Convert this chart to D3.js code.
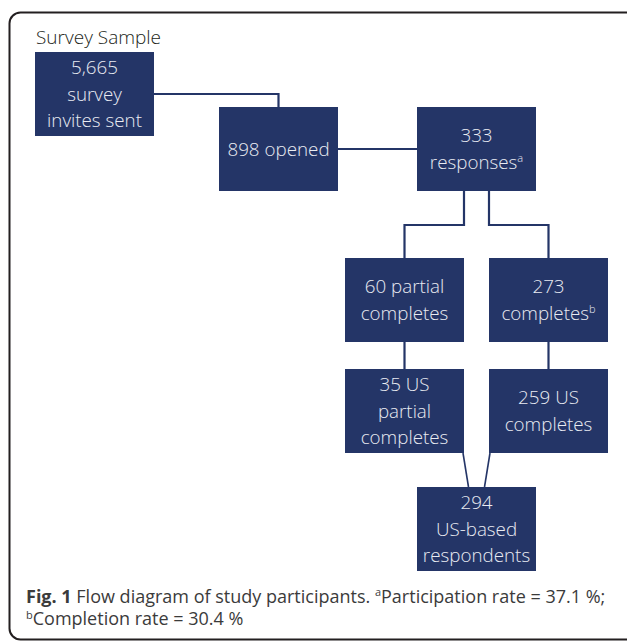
<!DOCTYPE html>
<html>
<head>
<meta charset="utf-8">
<script src="https://cdn.jsdelivr.net/npm/d3@7"></script>
<style>
  body { margin: 0; background: #fff; }
  svg { display: block; font-family: "Open Sans", sans-serif; }
</style>
</head>
<body>
<svg id="chart"></svg>
<script>

// box text, one entry per line
const nodeLines = [
  ["5,665", "survey", "invites sent"],
  ["898 opened"],
  ["333", "responses"],
  ["60 partial", "completes"],
  ["273", "completes"],
  ["35 US", "partial", "completes"],
  ["259 US", "completes"],
  ["294", "US-based", "respondents"]
]
// footnote mark on the last line of a box
const nodeNotes = [null, null, "a", null, "b", null, null, null]
const nodeCol = ["sample", "opened", "mid", "left", "right", "left", "right", "mid"]
const nodeRow = ["sample", "opened", "opened", "split", "split", "us", "us", "total"]

// source, target, kind of connector
const links = [
  [0, 1, "side"],
  [1, 2, "straight"],
  [2, 3, "fork"],
  [2, 4, "fork"],
  [3, 5, "down"],
  [4, 6, "down"],
  [5, 7, "merge"],
  [6, 7, "merge"]
]

const title = "Survey Sample"
const captionLabel = "Fig. 1"
const captionText = " Flow diagram of study participants. "
const captionNotes = ["Participation rate = 37.1 %;", "Completion rate = 30.4 %"]

const width = 627, height = 641
const boxW = 119, boxH = 84
const lineH = 26.8
const navy = "#243567"

const svg = d3.select("#chart")
  .attr("width", width)
  .attr("height", height)

// layout scales
const x = d3.scaleOrdinal()
  .domain(["sample", "opened", "left", "mid", "right"])
  .range([35, 219, 345, 417, 489])
const y = d3.scaleOrdinal()
  .domain(["sample", "opened", "split", "us", "total"])
  .range([52, 107, 258, 369, 487])

const nodes = nodeLines.map((lines, i) => {
  const nx = x(nodeCol[i]), ny = y(nodeRow[i])
  return { lines, note: nodeNotes[i], x: nx, y: ny, cx: nx + boxW / 2, cy: ny + boxH / 2 }
})

// frame
svg.append("rect")
  .attr("x", 9.5)
  .attr("y", 12.5)
  .attr("width", 627)
  .attr("height", 627)
  .attr("rx", 11)
  .attr("fill", "none")
  .attr("stroke", "#231f20")
  .attr("stroke-width", 2)

svg.append("text")
  .attr("x", 36)
  .attr("y", 44)
  .attr("fill", "#231f20")
  .attr("font-size", 19)
  .attr("font-weight", 300)
  .text(title)

// connectors
function linkPath(s, t, kind) {
  const p = d3.path()
  if (kind === "side") {
    p.moveTo(s.x + boxW, s.cy)
    p.lineTo(t.cx, s.cy)
    p.lineTo(t.cx, t.y)
  } else if (kind === "straight") {
    p.moveTo(s.x + boxW, s.cy)
    p.lineTo(t.x, s.cy)
  } else if (kind === "fork") {
    const side = t.cx < s.cx ? -1 : 1
    const sx = s.cx + side * 12.5
    const midY = s.y + boxH + 34
    p.moveTo(sx, s.y + boxH)
    p.lineTo(sx, midY)
    p.lineTo(t.cx, midY)
    p.lineTo(t.cx, t.y)
  } else if (kind === "down") {
    p.moveTo(s.cx, s.y + boxH)
    p.lineTo(t.cx, t.y)
  } else {
    const side = s.cx < t.cx ? -1 : 1
    const sx = side < 0 ? s.x + boxW - 1 : s.x + 1
    p.moveTo(sx, s.y + boxH)
    p.lineTo(t.cx + side * 8, t.y)
  }
  return p.toString()
}

svg.append("g")
  .selectAll("path")
  .data(links)
  .join("path")
  .attr("d", d => linkPath(nodes[d[0]], nodes[d[1]], d[2]))
  .attr("fill", "none")
  .attr("stroke", navy)
  .attr("stroke-width", d => d[2] === "merge" ? 1.6 : 2.2)

// boxes
const box = svg.append("g")
  .selectAll("g")
  .data(nodes)
  .join("g")

box.append("rect")
  .attr("x", d => d.x)
  .attr("y", d => d.y)
  .attr("width", boxW)
  .attr("height", boxH)
  .attr("fill", navy)

box.each(function (d) {
  const g = d3.select(this)
  const n = d.lines.length
  d.lines.forEach((line, i) => {
    const t = g.append("text")
      .attr("x", d.cx)
      .attr("y", d.cy + 6.5 + (i - (n - 1) / 2) * lineH)
      .attr("text-anchor", "middle")
      .attr("fill", "#e9ebf2")
      .attr("font-size", 18.8)
      .attr("font-weight", 300)
    t.append("tspan").text(line)
    if (d.note && i === n - 1) {
      t.append("tspan")
        .attr("font-size", 11)
        .attr("dy", -7)
        .text(d.note)
    }
  })
})

// caption
const cap1 = svg.append("text")
  .attr("x", 26)
  .attr("y", 603)
  .attr("fill", "#3b3b3b")
  .attr("font-size", 18)
cap1.append("tspan").attr("font-weight", 700).text(captionLabel)
cap1.append("tspan").text(captionText)
cap1.append("tspan").attr("font-size", 11).attr("dy", -7).text("a")
cap1.append("tspan").attr("dy", 7).text(captionNotes[0])

const cap2 = svg.append("text")
  .attr("x", 26)
  .attr("y", 625)
  .attr("fill", "#3b3b3b")
  .attr("font-size", 18)
cap2.append("tspan").attr("font-size", 11).attr("dy", -6).text("b")
cap2.append("tspan").attr("dy", 6).text(captionNotes[1])

</script>
</body>
</html>
